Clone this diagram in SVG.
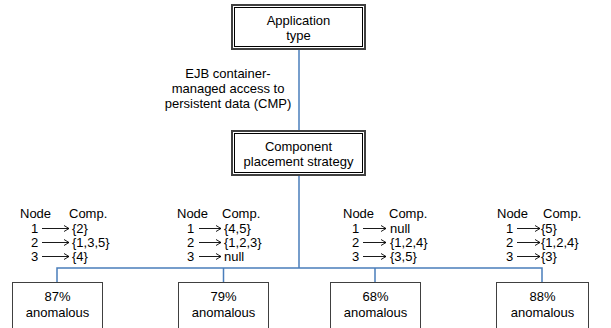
<svg xmlns="http://www.w3.org/2000/svg" width="611" height="328" viewBox="0 0 611 328">
<defs>
<marker id="ah" markerWidth="8" markerHeight="8" refX="6" refY="3.5" orient="auto" markerUnits="userSpaceOnUse">
<path d="M1,0.5 L6,3.5 L1,6.5" fill="none" stroke="#000" stroke-width="0.9"/>
</marker>
</defs>
<style>
text{font-family:"Liberation Sans",Arial,sans-serif;font-size:13px;fill:#000}
.c{text-anchor:middle}
.outer{fill:#fff;stroke:#404040;stroke-width:2}
.inner{fill:none;stroke:#000;stroke-width:1}
.box{fill:#fff;stroke:#404040;stroke-width:1}
.conn{fill:none;stroke:#4a7ebb;stroke-width:1.5}
.arr{stroke:#000;stroke-width:0.9;marker-end:url(#ah)}
</style>
<g id="connectors">
<line class="conn" x1="299" y1="50" x2="299" y2="130"/>
<path class="conn" d="M299,176 V268 M57,282 V268 H542 V282 M223.5,268 V282 M375,268 V282"/>
</g>
<g id="label-cmp">
<text class="c" x="228" y="78">EJB container-</text>
<text class="c" x="228" y="93">managed access to</text>
<text class="c" x="228" y="108">persistent data (CMP)</text>
</g>
<g id="app-type">
<rect class="outer" x="232" y="5" width="133" height="44"/>
<rect class="inner" x="234.5" y="7.5" width="128" height="39"/>
<text class="c" x="298.5" y="25">Application</text>
<text class="c" x="298.5" y="40">type</text>
</g>
<g id="placement">
<rect class="outer" x="232" y="131" width="133" height="44"/>
<rect class="inner" x="234.5" y="133.5" width="128" height="39"/>
<text class="c" x="298.5" y="151">Component</text>
<text class="c" x="298.5" y="166">placement strategy</text>
</g>
<g id="table1">
<text x="20" y="218">Node</text><text x="69" y="218">Comp.</text>
<text x="31" y="233">1</text><line class="arr" x1="42" y1="228.5" x2="69" y2="228.5"/><text x="72" y="233">{2}</text>
<text x="31" y="247">2</text><line class="arr" x1="42" y1="242.5" x2="69" y2="242.5"/><text x="72" y="247">{1,3,5}</text>
<text x="31" y="261">3</text><line class="arr" x1="42" y1="256.5" x2="69" y2="256.5"/><text x="72" y="261">{4}</text>
</g>
<g id="table2">
<text x="177" y="218">Node</text><text x="222" y="218">Comp.</text>
<text x="187" y="233">1</text><line class="arr" x1="199" y1="228.5" x2="221" y2="228.5"/><text x="224" y="233">{4,5}</text>
<text x="187" y="247">2</text><line class="arr" x1="199" y1="242.5" x2="221" y2="242.5"/><text x="224" y="247">{1,2,3}</text>
<text x="187" y="261">3</text><line class="arr" x1="199" y1="256.5" x2="221" y2="256.5"/><text x="224" y="261">null</text>
</g>
<g id="table3">
<text x="343" y="218">Node</text><text x="389" y="218">Comp.</text>
<text x="352" y="233">1</text><line class="arr" x1="363" y1="228.5" x2="386" y2="228.5"/><text x="390" y="233">null</text>
<text x="352" y="247">2</text><line class="arr" x1="363" y1="242.5" x2="386" y2="242.5"/><text x="390" y="247">{1,2,4}</text>
<text x="352" y="261">3</text><line class="arr" x1="363" y1="256.5" x2="386" y2="256.5"/><text x="390" y="261">{3,5}</text>
</g>
<g id="table4">
<text x="497" y="218">Node</text><text x="543" y="218">Comp.</text>
<text x="506" y="233">1</text><line class="arr" x1="517" y1="228.5" x2="540" y2="228.5"/><text x="541" y="233">{5}</text>
<text x="506" y="247">2</text><line class="arr" x1="517" y1="242.5" x2="540" y2="242.5"/><text x="541" y="247">{1,2,4}</text>
<text x="506" y="261">3</text><line class="arr" x1="517" y1="256.5" x2="540" y2="256.5"/><text x="541" y="261">{3}</text>
</g>
<g id="result1">
<rect class="box" x="12.5" y="282.5" width="90" height="60"/>
<text class="c" x="57.5" y="301">87%</text><text class="c" x="57.5" y="317">anomalous</text>
</g>
<g id="result2">
<rect class="box" x="178.5" y="282.5" width="90" height="60"/>
<text class="c" x="223.5" y="301">79%</text><text class="c" x="223.5" y="317">anomalous</text>
</g>
<g id="result3">
<rect class="box" x="330.5" y="282.5" width="90" height="60"/>
<text class="c" x="375.5" y="301">68%</text><text class="c" x="375.5" y="317">anomalous</text>
</g>
<g id="result4">
<rect class="box" x="496.5" y="282.5" width="92" height="60"/>
<text class="c" x="542.5" y="301">88%</text><text class="c" x="542.5" y="317">anomalous</text>
</g>
</svg>
